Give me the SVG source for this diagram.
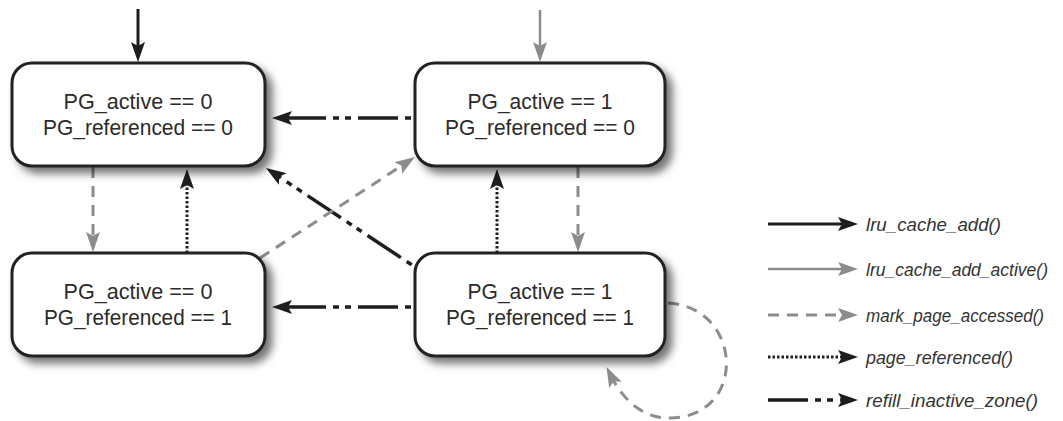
<svg xmlns="http://www.w3.org/2000/svg" width="1063" height="421" viewBox="0 0 1063 421">
<style>
.box{fill:#fff;stroke:#222;stroke-width:3}
.lbl{font-family:"Liberation Sans",Arial,sans-serif;font-size:22px;fill:#2b2b2b;text-anchor:middle}
.leg{font-family:"Liberation Sans",Arial,sans-serif;font-size:19px;font-style:italic;fill:#333}
.blk{fill:none;stroke:#1e1e1e;stroke-width:3}
.gry{fill:none;stroke:#8c8c8c;stroke-width:2.5}
.gdash{fill:none;stroke:#8c8c8c;stroke-width:3;stroke-dasharray:11 8}
.dot{fill:none;stroke:#1e1e1e;stroke-width:3;stroke-dasharray:2.5 2}
.dd{fill:none;stroke:#1e1e1e;stroke-width:3.5;stroke-dasharray:40 7 6 6 6 7}
</style>
<defs>
<filter id="sh" x="-10%" y="-10%" width="130%" height="140%">
<feGaussianBlur in="SourceAlpha" stdDeviation="4.5"/>
<feOffset dx="6" dy="6" result="b"/>
<feFlood flood-color="#000" flood-opacity="0.55"/>
<feComposite in2="b" operator="in"/>
<feMerge><feMergeNode/><feMergeNode in="SourceGraphic"/></feMerge>
</filter>
<marker id="ab" markerUnits="userSpaceOnUse" viewBox="0 0 20 14" refX="10" refY="7" markerWidth="20" markerHeight="14" orient="auto">
<path d="M0,0 L20,7 L0,14 L4,7 z" fill="#1e1e1e"/>
</marker>
<marker id="ag" markerUnits="userSpaceOnUse" viewBox="0 0 20 14" refX="10" refY="7" markerWidth="20" markerHeight="14" orient="auto">
<path d="M0,0 L20,7 L0,14 L4,7 z" fill="#8c8c8c"/>
</marker>
</defs>

<g id="connectors">
<path class="blk" d="M138,9 V52" marker-end="url(#ab)"/>
<path class="gry" d="M540,10 V52" marker-end="url(#ag)"/>
<path class="dd" d="M415,118 H282" stroke-dashoffset="55" marker-end="url(#ab)"/>
<path class="dd" d="M415,307 H282" stroke-dashoffset="55" marker-end="url(#ab)"/>
<path class="dd" d="M415,267 L274.3,173.5" stroke-dashoffset="55" marker-end="url(#ab)"/>
<path class="gdash" d="M260,258 L406.6,162.5" marker-end="url(#ag)"/>
<path class="gdash" d="M93,167 V242" marker-end="url(#ag)"/>
<path class="gdash" d="M578,167 V242" marker-end="url(#ag)"/>
<path class="dot" d="M187,253 V179" marker-end="url(#ab)"/>
<path class="dot" d="M497,253 V179" marker-end="url(#ab)"/>
<path class="gdash" d="M668,303 C743,307 748,417 670,418 C642,419 622,398 611,376" marker-end="url(#ag)"/>
</g>

<g id="node-active0-ref0">
<rect class="box" x="12" y="63" width="253" height="103" rx="20" filter="url(#sh)"/>
<text class="lbl" x="138" y="109" textLength="149" lengthAdjust="spacingAndGlyphs">PG_active == 0</text>
<text class="lbl" x="138" y="135" textLength="190" lengthAdjust="spacingAndGlyphs">PG_referenced == 0</text>
</g>
<g id="node-active1-ref0">
<rect class="box" x="415" y="63" width="250" height="103" rx="20" filter="url(#sh)"/>
<text class="lbl" x="540" y="109" textLength="145" lengthAdjust="spacingAndGlyphs">PG_active == 1</text>
<text class="lbl" x="540" y="135" textLength="190" lengthAdjust="spacingAndGlyphs">PG_referenced == 0</text>
</g>
<g id="node-active0-ref1">
<rect class="box" x="12" y="253" width="253" height="103" rx="20" filter="url(#sh)"/>
<text class="lbl" x="138" y="299" textLength="149" lengthAdjust="spacingAndGlyphs">PG_active == 0</text>
<text class="lbl" x="138" y="325" textLength="188" lengthAdjust="spacingAndGlyphs">PG_referenced == 1</text>
</g>
<g id="node-active1-ref1">
<rect class="box" x="415" y="253" width="250" height="103" rx="20" filter="url(#sh)"/>
<text class="lbl" x="540" y="299" textLength="145" lengthAdjust="spacingAndGlyphs">PG_active == 1</text>
<text class="lbl" x="540" y="325" textLength="188" lengthAdjust="spacingAndGlyphs">PG_referenced == 1</text>
</g>

<g id="legend">
<path class="blk" d="M768,224 H848" marker-end="url(#ab)"/>
<text class="leg" x="866" y="231" textLength="135" lengthAdjust="spacingAndGlyphs">lru_cache_add()</text>
<path class="gry" d="M768,269 H848" marker-end="url(#ag)"/>
<text class="leg" x="866" y="276" textLength="182" lengthAdjust="spacingAndGlyphs">lru_cache_add_active()</text>
<path class="gdash" d="M768,315 H848" stroke-dasharray="12 11" marker-end="url(#ag)"/>
<text class="leg" x="866" y="322" textLength="178" lengthAdjust="spacingAndGlyphs">mark_page_accessed()</text>
<path class="dot" d="M768,357 H848" marker-end="url(#ab)"/>
<text class="leg" x="866" y="364" textLength="147" lengthAdjust="spacingAndGlyphs">page_referenced()</text>
<path class="dd" d="M768,400 H848" marker-end="url(#ab)"/>
<text class="leg" x="866" y="407" textLength="172" lengthAdjust="spacingAndGlyphs">refill_inactive_zone()</text>
</g>
</svg>
